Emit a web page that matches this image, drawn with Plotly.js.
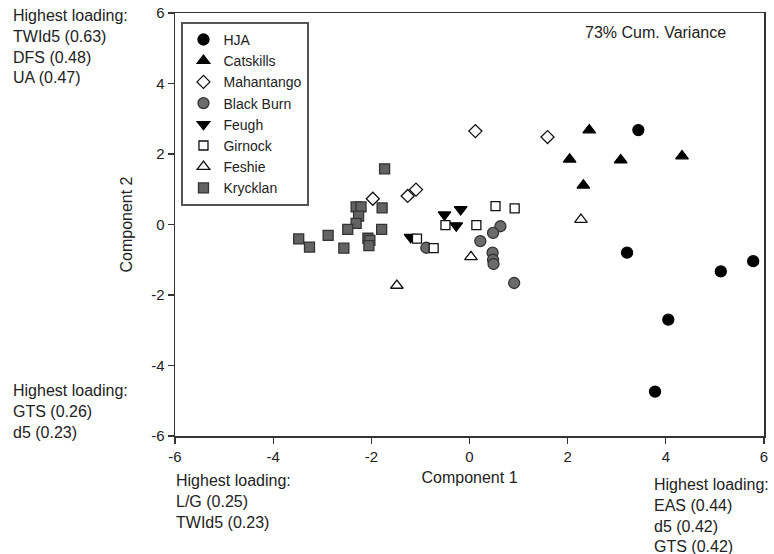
<!DOCTYPE html>
<html>
<head>
<meta charset="utf-8">
<script src="https://cdn.plot.ly/plotly-3.0.1.min.js"></script>
<style>html,body{margin:0;padding:0;background:#fff;}#chart{width:774px;height:554px;}</style>
</head>
<body>
<div id="chart"></div>
<script>
// Data (Component 1, Component 2)
const hjaX = [3.44, 3.21, 5.12, 5.78, 4.05, 3.78];
const hjaY = [2.68, -0.80, -1.33, -1.04, -2.70, -4.74];
const catskillsX = [2.44, 2.04, 3.08, 4.33, 2.32];
const catskillsY = [2.68, 1.85, 1.83, 1.94, 1.11];
const mahantangoX = [0.12, 1.59, -1.97, -1.26, -1.09];
const mahantangoY = [2.65, 2.48, 0.73, 0.81, 0.99];
const blackBurnX = [0.63, 0.48, 0.22, 0.47, 0.48, 0.49, 0.91, -0.88];
const blackBurnY = [-0.05, -0.24, -0.47, -0.80, -1.00, -1.12, -1.66, -0.66];
const feughX = [-0.51, -0.18, -0.27, -1.20];
const feughY = [0.28, 0.43, -0.03, -0.36];
const girnockX = [0.53, 0.92, -0.49, 0.14, -0.73, -1.07];
const girnockY = [0.52, 0.46, -0.02, -0.02, -0.67, -0.40];
const feshieX = [2.27, 0.03, -1.48];
const feshieY = [0.14, -0.92, -1.73];
const krycklanX = [-1.73, -2.31, -2.21, -1.78, -2.26, -2.31, -2.48, -1.79, -2.88, -3.48, -3.26, -2.56, -2.07, -2.03, -2.05];
const krycklanY = [1.58, 0.50, 0.50, 0.47, 0.24, 0.03, -0.14, -0.14, -0.31, -0.41, -0.64, -0.67, -0.39, -0.45, -0.60];
const tickVals = [-6, -4, -2, 0, 2, 4, 6];
const tickText = ['-6', '-4', '-2', '0', '2', '4', '6'];
const seriesNames = ['HJA', 'Catskills', 'Mahantango', 'Black Burn', 'Feugh', 'Girnock', 'Feshie', 'Krycklan'];

const FONT = 'Liberation Sans, Arial, sans-serif';
const TXT = '#222';

function tr(name, x, y, symbol, size, fill, line) {
  return {
    type: 'scatter', mode: 'markers', name: name, x: x, y: y,
    marker: {symbol: symbol, size: size, color: fill, line: {color: line, width: 1.3}}
  };
}

const data = [
  tr(seriesNames[0], hjaX, hjaY, 'circle', 11, '#000', '#000'),
  tr(seriesNames[1], catskillsX, catskillsY, 'triangle-up', 11, '#000', '#000'),
  tr(seriesNames[2], mahantangoX, mahantangoY, 'diamond', 10, '#fff', '#111'),
  tr(seriesNames[3], blackBurnX, blackBurnY, 'circle', 11, '#6b6b6b', '#333'),
  tr(seriesNames[4], feughX, feughY, 'triangle-down', 11, '#000', '#000'),
  tr(seriesNames[5], girnockX, girnockY, 'square', 9, '#fff', '#111'),
  tr(seriesNames[6], feshieX, feshieY, 'triangle-up', 11, '#fff', '#111'),
  tr(seriesNames[7], krycklanX, krycklanY, 'square', 10, '#636363', '#333')
];

const axisCommon = {
  range: [-6, 6], tickvals: tickVals, ticktext: tickText, ticks: 'outside', ticklen: 6, tickwidth: 1.3,
  tickcolor: '#333', showline: true, linecolor: '#333', linewidth: 1.5, mirror: true,
  showgrid: false, zeroline: false, tickfont: {family: FONT, size: 15, color: TXT}
};

const annFont = {family: FONT, size: 16, color: TXT};
function ann(text, x, y, xanchor, yanchor) {
  return {xref: 'paper', yref: 'paper', x: x, y: y, xanchor: xanchor, yanchor: yanchor,
          text: text, showarrow: false, align: 'left', font: annFont};
}

const layout = {
  width: 774, height: 554,
  margin: {l: 175, r: 10, t: 13, b: 118},
  paper_bgcolor: '#fff', plot_bgcolor: '#fff',
  font: {family: FONT, color: TXT},
  xaxis: Object.assign({}, axisCommon, {
    title: {text: 'Component 1', font: {family: FONT, size: 16, color: TXT}, standoff: 8}
  }),
  yaxis: Object.assign({}, axisCommon, {
    title: {text: 'Component 2', font: {family: FONT, size: 16, color: TXT}, standoff: 14}
  }),
  showlegend: true,
  legend: {
    x: 0.011, y: 0.979, xanchor: 'left', yanchor: 'top',
    bgcolor: '#fff', bordercolor: '#555', borderwidth: 2,
    font: {family: FONT, size: 14, color: TXT}
  },
  annotations: [
    ann('73% Cum. Variance', 0.815, 0.953, 'center', 'middle'),
    ann('Highest loading:<br>TWId5 (0.63)<br>DFS (0.48)<br>UA (0.47)', -0.279, 0.921, 'left', 'middle'),
    ann('Highest loading:<br>GTS (0.26)<br>d5 (0.23)', -0.279, 0.058, 'left', 'middle'),
    ann('Highest loading:<br>L/G (0.25)<br>TWId5 (0.23)', -0.002, -0.156, 'left', 'middle'),
    ann('Highest loading:<br>EAS (0.44)<br>d5 (0.42)<br>GTS (0.42)', 0.809, -0.189, 'left', 'middle')
  ]
};

Plotly.newPlot('chart', data, layout, {displayModeBar: false, staticPlot: true});
</script>
</body>
</html>
